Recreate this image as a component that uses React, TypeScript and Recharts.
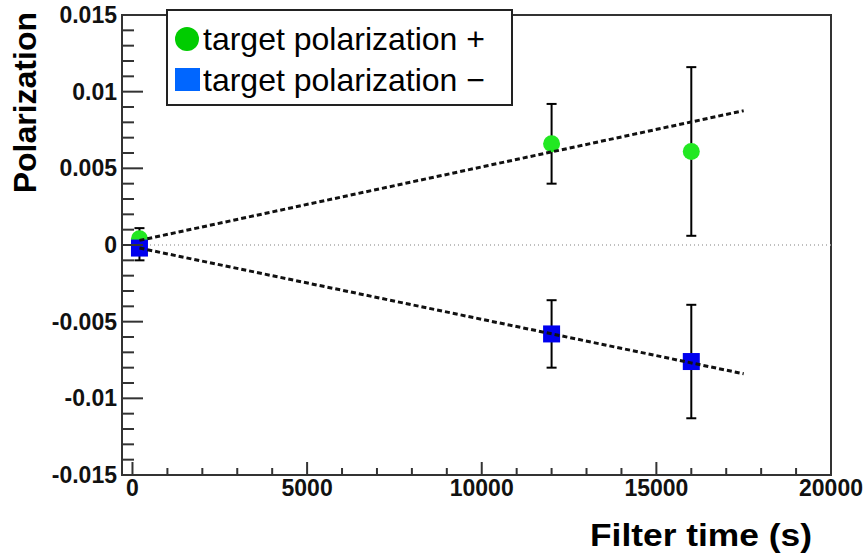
import React from 'react'
import {
  ComposedChart,
  Scatter,
  XAxis,
  YAxis,
  ErrorBar,
  ReferenceLine,
  ReferenceArea,
  Legend,
} from 'recharts'

// measured points
const filterTimes = [200, 12000, 16000]
const polPlus = [0.0004, 0.0066, 0.0061]
const errPlus = [0.0007, 0.0026, 0.0055]
const polMinus = [-0.0002, -0.0058, -0.0076]
const errMinus = [0.0008, 0.0022, 0.0037]

// linear fits (end points)
const fitTimes = [200, 17500]
const fitPlus = [0.0003, 0.00876]
const fitMinus = [-0.0002, -0.0084]

const xDomain = [-300, 20000]
const yDomain = [-0.015, 0.015]
const xMajorTicks = [0, 5000, 10000, 15000, 20000]
const yMajorTicks = [-0.015, -0.01, -0.005, 0, 0.005, 0.01, 0.015]

const legendItems = [
  { label: 'target polarization +', color: '#00cc00', shape: 'circle' },
  { label: 'target polarization \u2212', color: '#0066ff', shape: 'square' },
]

const xTicks: number[] = []
for (let i = 0; i <= 20; i++) xTicks.push(i * 1000)
const yTicks: number[] = []
for (let i = -15; i <= 15; i++) yTicks.push(i / 1000)

const plusData = filterTimes.map((x, i) => ({ x, y: polPlus[i], err: errPlus[i] }))
const minusData = filterTimes.map((x, i) => ({ x, y: polMinus[i], err: errMinus[i] }))
const fitPlusData = fitTimes.map((x, i) => ({ x, y: fitPlus[i] }))
const fitMinusData = fitTimes.map((x, i) => ({ x, y: fitMinus[i] }))

const FONT = '"Liberation Sans", Arial, Helvetica, sans-serif'
const AXIS = '#333'

const isMajorY = (v: number) => yMajorTicks.some((t) => Math.abs(t - v) < 1e-9)
const isMajorX = (v: number) => xMajorTicks.includes(v)

function YTick(props: any) {
  const { x, y, payload } = props
  const axisX = x + 5
  const major = isMajorY(payload.value)
  return (
    <g>
      <line x1={axisX} x2={axisX + (major ? 21 : 12)} y1={y} y2={y} stroke={AXIS} strokeWidth={2} />
      {major && (
        <text x={x} y={y} dy="0.35em" textAnchor="end" fontFamily={FONT} fontWeight="bold" fontSize={23} fill="#111">
          {String(Math.round(payload.value * 1000) / 1000)}
        </text>
      )}
    </g>
  )
}

function XTick(props: any) {
  const { x, y, payload } = props
  const axisY = y - 5
  const major = isMajorX(payload.value)
  return (
    <g>
      <line x1={x} x2={x} y1={axisY} y2={axisY - (major ? 13 : 7)} stroke={AXIS} strokeWidth={2} />
      {major && (
        <text x={x} y={y} dy="0.71em" textAnchor="middle" fontFamily={FONT} fontWeight="bold" fontSize={23} fill="#111">
          {payload.value}
        </text>
      )}
    </g>
  )
}

const circleShape = (p: any) => <circle cx={p.cx} cy={p.cy} r={8.5} fill="#22e822" />
const squareShape = (p: any) => <rect x={p.cx - 8.5} y={p.cy - 8.5} width={17} height={17} fill="#0000ee" />
const noShape = () => <g />

function LegendBox() {
  return (
    <div style={{ width: 347, height: 97, boxSizing: 'border-box', border: '2px solid #222', background: '#fff' }}>
      <svg width={343} height={93} style={{ display: 'block' }}>
        {legendItems.map((item, i) => {
          const cy = 28 + i * 41
          return (
            <g key={item.label}>
              {item.shape === 'circle' ? (
                <circle cx={19} cy={cy} r={12} fill={item.color} />
              ) : (
                <rect x={7} y={cy - 12} width={25} height={23} fill={item.color} />
              )}
              <text x={35} y={cy} dy="0.35em" fontFamily={FONT} fontSize={32} fill="#000">
                {item.label}
              </text>
            </g>
          )
        })}
      </svg>
    </div>
  )
}

export default function App() {
  return (
    <div style={{ position: 'absolute', left: 0, top: 0, background: '#fff' }}>
      <ComposedChart width={863} height={555} margin={{ top: 15, right: 32, bottom: 40, left: 12 }}>
        <XAxis
          type="number"
          dataKey="x"
          domain={xDomain}
          allowDataOverflow
          ticks={xTicks}
          interval={0}
          tick={XTick}
          tickLine={false}
          axisLine={false}
          tickSize={0}
          tickMargin={5}
          height={40}
          label={{
            content: () => (
              <text
                x={812}
                y={546}
                textAnchor="end"
                textLength={222}
                lengthAdjust="spacingAndGlyphs"
                fontFamily={FONT}
                fontWeight="bold"
                fontSize={31}
                fill="#000"
              >
                Filter time (s)
              </text>
            ),
          }}
        />
        <YAxis
          type="number"
          dataKey="y"
          domain={yDomain}
          allowDataOverflow
          ticks={yTicks}
          interval={0}
          tick={YTick}
          tickLine={false}
          axisLine={false}
          tickSize={0}
          tickMargin={5}
          width={110}
          label={{
            content: () => (
              <text
                x={36}
                y={12}
                textAnchor="end"
                transform="rotate(-90, 36, 12)"
                fontFamily={FONT}
                fontWeight="bold"
                fontSize={32}
                fill="#000"
              >
                Polarization
              </text>
            ),
          }}
        />
        <ReferenceLine y={0} stroke="#aaa" strokeWidth={1.5} strokeDasharray="1 3" />
        <Scatter data={plusData} shape={circleShape} isAnimationActive={false}>
          <ErrorBar dataKey="err" direction="y" width={5} stroke="#000" strokeWidth={2} isAnimationActive={false} />
        </Scatter>
        <Scatter data={minusData} shape={squareShape} isAnimationActive={false}>
          <ErrorBar dataKey="err" direction="y" width={5} stroke="#000" strokeWidth={2} isAnimationActive={false} />
        </Scatter>
        <Scatter
          data={fitPlusData}
          shape={noShape}
          line={{ stroke: '#111', strokeWidth: 3, strokeDasharray: '5 3' }}
          isAnimationActive={false}
        />
        <Scatter
          data={fitMinusData}
          shape={noShape}
          line={{ stroke: '#111', strokeWidth: 3, strokeDasharray: '5 3' }}
          isAnimationActive={false}
        />
        <ReferenceArea
          x1={xDomain[0]}
          x2={xDomain[1]}
          y1={yDomain[0]}
          y2={yDomain[1]}
          fill="none"
          stroke={AXIS}
          strokeWidth={2}
        />
        <Legend
          layout="vertical"
          align="center"
          verticalAlign="middle"
          content={() => <LegendBox />}
          wrapperStyle={{ position: 'absolute', left: 166, top: 9, width: 347, height: 97 }}
        />
      </ComposedChart>
    </div>
  )
}
